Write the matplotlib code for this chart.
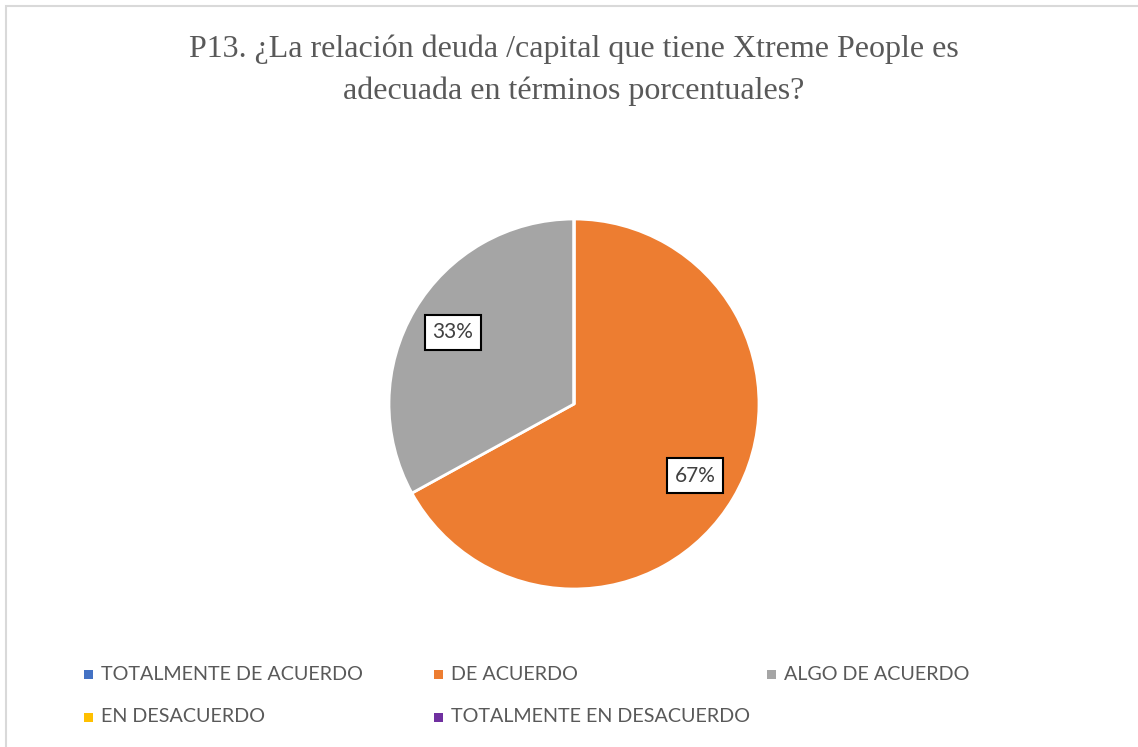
import matplotlib
matplotlib.use("Agg")
import matplotlib.pyplot as plt
from matplotlib.patches import Rectangle

# data
categorias = ["TOTALMENTE DE ACUERDO", "DE ACUERDO", "ALGO DE ACUERDO",
              "EN DESACUERDO", "TOTALMENTE EN DESACUERDO"]
porcentajes = [0, 67, 33, 0, 0]
colores = ["#4472C4", "#ED7D31", "#A5A5A5", "#FFC000", "#7030A0"]
titulo = "P13. ¿La relación deuda /capital que tiene Xtreme People es\nadecuada en términos porcentuales?"

W, H = 1138, 747
fig = plt.figure(figsize=(W / 100, H / 100), dpi=100)
fig.patch.set_facecolor("white")

# borde gris claro
fig.patches.append(Rectangle((6 / W, -0.1), 1.2, (H - 6) / H + 0.1, transform=fig.transFigure,
                             fill=False, edgecolor="#D9D9D9", linewidth=1.5))

gris = "#595959"
fig.text(574 / W, 1 - 70 / H, titulo, ha="center", va="center", fontsize=23,
         family="Liberation Serif", color=gris, linespacing=1.55)

# pie
cx, cy, r = 574, 404, 185
ax = fig.add_axes([(cx - r) / W, 1 - (cy + r) / H, 2 * r / W, 2 * r / H])
ax.set_aspect("equal")

def etiqueta(pct):
    return f"{pct:.0f}%" if pct > 0.5 else ""

wedges, textos, autotextos = ax.pie(porcentajes, colors=colores, startangle=90, counterclock=False,
                                    autopct=etiqueta, pctdistance=0.76, radius=1,
                                    wedgeprops=dict(edgecolor="white", linewidth=2))
for t in autotextos:
    t.set_fontsize(15)
    t.set_family("Lato")
    t.set_color("#404040")
    if t.get_text():
        t.set_bbox(dict(boxstyle="square,pad=0.38", facecolor="white", edgecolor="black", linewidth=1.5))
ax.set_xlim(-1, 1)
ax.set_ylim(-1, 1)
ax.axis("off")

# leyenda manual (3 columnas, 2 filas)
pos_x = [88, 438, 771, 88, 438]
pos_y = [674, 674, 674, 717, 717]
for nombre, color, x, y in zip(categorias, colores, pos_x, pos_y):
    fig.patches.append(Rectangle(((x - 4.5) / W, 1 - (y + 4.5) / H), 9 / W, 9 / H,
                                 transform=fig.transFigure, facecolor=color, edgecolor="none"))
    fig.text((x + 13) / W, 1 - y / H, nombre, ha="left", va="center", fontsize=14.2,
             family="Lato", color=gris)

fig.savefig("out.png", dpi=100)
